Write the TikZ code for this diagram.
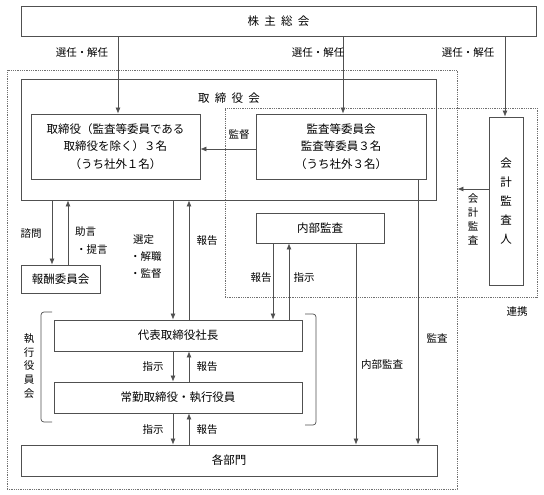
\documentclass[tikz,border=0pt]{standalone}
\usepackage{fontspec}
\setmainfont{Noto Sans CJK JP}
\usetikzlibrary{arrows.meta}
\definecolor{linec}{HTML}{505050}
\definecolor{dotc}{HTML}{707070}
\tikzset{
  box/.style={draw=linec, line width=0.8pt, inner sep=0pt, align=center,
    font=\fontsize{11.5pt}{17.5pt}\selectfont},
  dotbox/.style={draw=dotc, line width=0.8pt, densely dotted, inner sep=0pt},
  arr/.style={draw=linec, line width=0.7pt, -{Latex[length=6pt,width=5pt]}},
  lbl/.style={font=\fontsize{10.5pt}{13.5pt}\selectfont, inner sep=0pt, align=center},
  brk/.style={draw=linec, line width=0.7pt, rounded corners=3pt}
}
\begin{document}
\begin{tikzpicture}[x=1pt,y=-1pt]
\useasboundingbox (0,0) rectangle (544,495);
% column / row helpers
\coordinate (cA) at (118,0);
\coordinate (cB) at (343,0);
\coordinate (cC) at (505,0);
\coordinate (c52) at (52,0);
\coordinate (c68) at (68,0);
\coordinate (c173) at (173,0);
\coordinate (c189) at (189,0);
\coordinate (c273) at (273,0);
\coordinate (c289) at (289,0);
\coordinate (c356) at (356,0);
\coordinate (c418) at (418,0);
\coordinate (r149) at (0,149);
\coordinate (r189) at (0,189);

% dotted boxes
\node[dotbox, minimum width=450pt, minimum height=419pt] (outer) at (232,279.5) {};
\node[dotbox, minimum width=312pt, minimum height=189pt] (inner) at (381,202.5) {};

% boxes
\node[box, minimum width=515pt, minimum height=30pt] (kabu) at (278.5,21) {株\hspace{0.45em}主\hspace{0.45em}総\hspace{0.45em}会};
\node[box, minimum width=415pt, minimum height=121pt] (torikai) at (228.5,139.5) {};
\node[font=\fontsize{11.5pt}{14pt}\selectfont] (torikailbl) at (229,98) {取\hspace{0.45em}締\hspace{0.45em}役\hspace{0.45em}会};
\node[box, minimum width=169pt, minimum height=65pt] (tori) at (115.5,146.5) {取締役（監査等委員である\\取締役を除く）３名\\（うち社外１名）};
\node[box, minimum width=170pt, minimum height=65pt] (kansa) at (341,146.5) {監査等委員会\\監査等委員３名\\（うち社外３名）};
\node[box, minimum width=128pt, minimum height=30pt] (naibu) at (320,228) {内部監査};
\node[box, minimum width=34pt, minimum height=168pt, font=\fontsize{11.5pt}{19pt}\selectfont] (kaikei) at (506,201) {会\\計\\監\\査\\人};
\node[box, minimum width=79pt, minimum height=28pt] (hoshu) at (60.5,279) {報酬委員会};
\node[box, minimum width=248pt, minimum height=31pt] (daihyo) at (178,335.5) {代表取締役社長};
\node[box, minimum width=248pt, minimum height=31pt] (jokin) at (178,397.5) {常勤取締役・執行役員};
\node[box, minimum width=416pt, minimum height=31pt] (kakubu) at (229,460.5) {各部門};

% shareholders arrows
\draw[arr] (kabu.south -| cA) -- (tori.north -| cA);
\draw[arr] (kabu.south -| cB) -- (kansa.north -| cB);
\draw[arr] (kabu.south -| cC) -- (kaikei.north -| cC);
\node[lbl] (s1) at (82,53) {選任・解任};
\node[lbl] (s2) at (318,53) {選任・解任};
\node[lbl] (s3) at (468,53) {選任・解任};

% supervise
\draw[arr] (kansa.west |- r149) -- (tori.east |- r149);
\node[lbl] (kantoku) at (239,135) {監督};

% remuneration committee
\draw[arr] (torikai.south -| c52) -- (hoshu.north -| c52);
\draw[arr] (hoshu.north -| c68) -- (torikai.south -| c68);
\node[lbl] (shimon) at (31,234) {諮問};
\node[lbl, anchor=west] (jogen) at (75,232) {助言};
\node[lbl, anchor=west] (teigen) at (76,250) {・提言};

% board <-> president
\draw[arr] (torikai.south -| c173) -- (daihyo.north -| c173);
\draw[arr] (daihyo.north -| c189) -- (torikai.south -| c189);
\node[lbl, anchor=west] (sentei) at (133,240) {選定};
\node[lbl, anchor=west] (kaishoku) at (130,257) {・解職};
\node[lbl, anchor=west] (kantoku2) at (130,274) {・監督};
\node[lbl] (hokoku1) at (207,241) {報告};

% internal audit <-> president
\draw[arr] (naibu.south -| c273) -- (daihyo.north -| c273);
\draw[arr] (daihyo.north -| c289) -- (naibu.south -| c289);
\node[lbl] (hokoku2) at (261,278) {報告};
\node[lbl] (shiji2) at (304,278) {指示};

% president <-> executives
\draw[arr] (daihyo.south -| c173) -- (jokin.north -| c173);
\draw[arr] (jokin.north -| c189) -- (daihyo.south -| c189);
\node[lbl] (shiji3) at (153,367) {指示};
\node[lbl] (hokoku3) at (207,367) {報告};

% executives <-> departments
\draw[arr] (jokin.south -| c173) -- (kakubu.north -| c173);
\draw[arr] (kakubu.north -| c189) -- (jokin.south -| c189);
\node[lbl] (shiji4) at (153,430) {指示};
\node[lbl] (hokoku4) at (207,430) {報告};

% audits to departments
\draw[arr] (naibu.south -| c356) -- (kakubu.north -| c356);
\node[lbl] (naibukansa) at (382,365) {内部監査};
\draw[arr] (kansa.south -| c418) -- (kakubu.north -| c418);
\node[lbl] (kansa2) at (437,338) {監査};

% accounting auditor
\draw[arr] (kaikei.west |- r189) -- (outer.east |- r189);
\node[lbl, font=\fontsize{10.5pt}{14pt}\selectfont] (kaikeikansa) at (473,219) {会\\計\\監\\査};
\node[lbl] (renkei) at (517,312) {連携};

% executive committee brackets
\draw[brk] (52,312) -- (41,312) -- (41,422) -- (52,422);
\draw[brk] (305,314) -- (316,314) -- (316,425) -- (305,425);
\node[lbl, font=\fontsize{10.5pt}{13.8pt}\selectfont] (shikko) at (29,366) {執\\行\\役\\員\\会};
\end{tikzpicture}
\end{document}
